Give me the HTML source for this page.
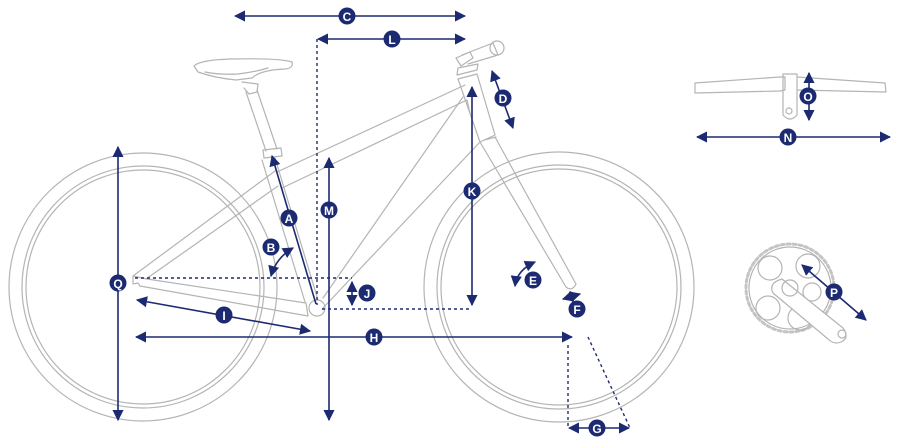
<!DOCTYPE html>
<html><head><meta charset="utf-8"><style>
html,body{margin:0;padding:0;background:#fff;}
svg{display:block}
.f{fill:none;stroke:#b4b4b4;stroke-width:1.2;stroke-linejoin:round;stroke-linecap:round}
.d{fill:none;stroke:#1c2a72;stroke-width:1.6}
.ds{fill:none;stroke:#1c2a72;stroke-width:1.4;stroke-dasharray:3 3}
.b circle{fill:#1c2a72}
.b text{fill:#fff;font-family:"Liberation Sans",sans-serif;font-weight:bold;font-size:12px;text-anchor:middle;dominant-baseline:central}
</style></head><body>
<svg width="903" height="448" viewBox="0 0 903 448" xmlns="http://www.w3.org/2000/svg">
<defs>
<marker id="a" viewBox="0 0 10 10" refX="9" refY="5" markerWidth="7" markerHeight="7" orient="auto-start-reverse"><path d="M0,0 L10,5 L0,10 z" fill="#1c2a72"/></marker>
</defs>
<g class="f">
<circle cx="143" cy="287" r="134"/><circle cx="143" cy="287" r="121"/><circle cx="143" cy="287" r="117"/>
<circle cx="559" cy="287" r="135"/><circle cx="559" cy="287" r="122"/><circle cx="559" cy="287" r="118"/>
<path d="M133,276 L133,284 L138,283 L140,286 L308,316 L306,303 L147,279 Z"/>
<path d="M133,276 L275,171 M146,279 L278,186"/>
<path d="M305,302 L262,160 M318,300 L275,158"/>
<circle cx="317" cy="308" r="8"/>
<path d="M263,150 L281,148 L282,156 L264,158 Z"/>
<path d="M266,151 L246,92 M277,149 L257,90"/>
<path d="M244,88 L249,94 L257,92 L258,84 L242,82"/>
<path d="M194,66 Q200,60 230,59 Q280,58 292,62 Q294,68 285,69 Q260,70 252,78 L236,80 Q215,78 198,72 Z"/>
<path d="M205,72 Q220,75 238,74 Q255,72 268,68"/>
<path d="M277,172 L465,85 M282,188 L467,100"/>
<path d="M467,100 L470,113 M323,298 L463,97 M323,308 L480,142"/>
<path d="M458,79 L477,74 L495,135 L480,142 Z"/>
<path d="M457,75 L477,70 L478,64 L458,68 Z"/>
<path d="M456,58 L470,52 L473,58 L461,66 Z"/>
<path d="M462,55 L493,43 L498,55 L468,64"/>
<circle cx="497" cy="48" r="7"/>
<path d="M480,142 L566,287 Q572,292 576,284 L495,137"/>
<path d="M484,140 L496,137"/>
<path d="M695,83 L780,77 L785,77 L785,90 L780,91 L695,93 Z"/>
<path d="M797,77 L885,83 L886,92 L797,90"/>
<path d="M783,74 L797,74 L797,115 Q790,123 783,115 Z"/>
<circle cx="789" cy="111" r="3"/>
</g>
<g class="f">
<circle cx="790" cy="288" r="44" stroke-dasharray="3 3" stroke-width="3" stroke="#c4c4c4"/>
<circle cx="790" cy="288" r="41"/>
<circle cx="770" cy="268" r="12"/><circle cx="808" cy="266" r="12"/><circle cx="768" cy="308" r="12"/><circle cx="800" cy="318" r="12"/><circle cx="812" cy="292" r="9"/>
<path d="M782,279 L843,328 Q850,338 841,342 Q834,345 828,339 L773,293 Q768,283 782,279 Z" fill="#fff"/>
<circle cx="790" cy="288" r="8"/><circle cx="842" cy="334" r="4"/>
</g>
<path class="ds" d="M317,39 L317,305 M135,278 L352,278 M322,309 L472,309 M568,345 L568,428 M588,337 L630,428"/>
<g class="d" marker-start="url(#a)" marker-end="url(#a)">
<line x1="235" y1="16" x2="465" y2="16"/>
<line x1="318" y1="39" x2="465" y2="39"/>
<line x1="492" y1="71" x2="513" y2="128"/>
<line x1="329" y1="158" x2="329" y2="420"/>
<line x1="472" y1="87" x2="472" y2="305"/>
<line x1="118" y1="147" x2="118" y2="420"/>
<line x1="137" y1="300" x2="310" y2="331"/>
<line x1="136" y1="337" x2="572" y2="337"/>
<line x1="352" y1="282" x2="352" y2="305"/>
<line x1="569" y1="428" x2="629" y2="428"/>
<line x1="809" y1="73" x2="809" y2="120"/>
<line x1="697" y1="137" x2="890" y2="137"/>
<line x1="802" y1="265" x2="866" y2="320"/>
<path d="M271,276 Q276,258 293,248"/>
<path d="M515,286 Q517,270 535,262"/>
<path d="M563,299 L580,294"/>
</g>
<line class="d" x1="272" y1="156" x2="316" y2="304" marker-start="url(#a)"/>
<g class="b">
<g><circle cx="347" cy="16" r="8.5"/><text x="347" y="17">C</text></g>
<g><circle cx="392" cy="39" r="8.5"/><text x="392" y="40">L</text></g>
<g><circle cx="503" cy="98" r="8.5"/><text x="503" y="99">D</text></g>
<g><circle cx="329" cy="210" r="8.5"/><text x="329" y="211">M</text></g>
<g><circle cx="472" cy="191" r="8.5"/><text x="472" y="192">K</text></g>
<g><circle cx="289" cy="218" r="8.5"/><text x="289" y="219">A</text></g>
<g><circle cx="271" cy="247" r="8.5"/><text x="271" y="248">B</text></g>
<g><circle cx="367" cy="293" r="8.5"/><text x="367" y="294">J</text></g>
<g><circle cx="118" cy="283" r="8.5"/><text x="118" y="284">Q</text></g>
<g><circle cx="224" cy="315" r="8.5"/><text x="224" y="316">I</text></g>
<g><circle cx="374" cy="337" r="8.5"/><text x="374" y="338">H</text></g>
<g><circle cx="533" cy="280" r="8.5"/><text x="533" y="281">E</text></g>
<g><circle cx="577" cy="309" r="8.5"/><text x="577" y="310">F</text></g>
<g><circle cx="597" cy="428" r="8.5"/><text x="597" y="429">G</text></g>
<g><circle cx="808" cy="96" r="8.5"/><text x="808" y="97">O</text></g>
<g><circle cx="788" cy="137" r="8.5"/><text x="788" y="138">N</text></g>
<g><circle cx="834" cy="292" r="8.5"/><text x="834" y="293">P</text></g>
</g>
</svg>
</body></html>
